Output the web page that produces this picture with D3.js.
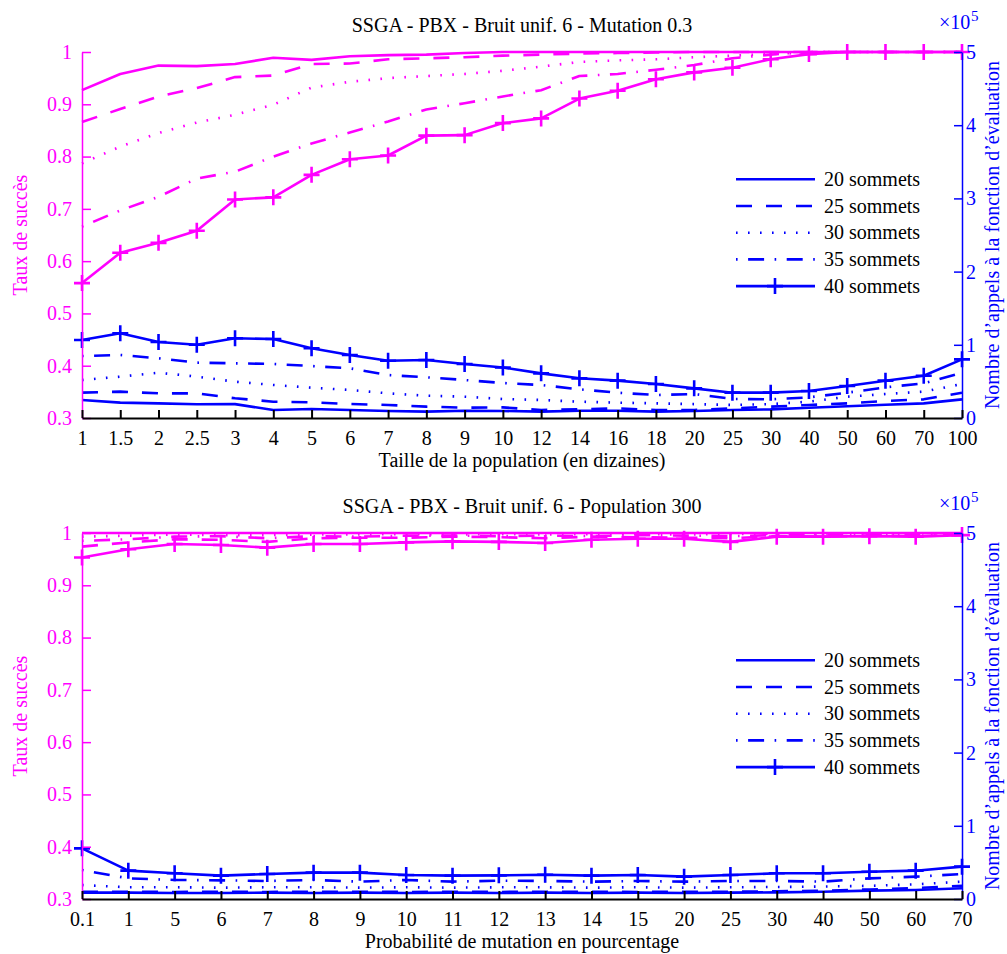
<!DOCTYPE html>
<html>
<head>
<meta charset="utf-8">
<script src="https://cdn.jsdelivr.net/npm/d3@7"></script>
<style>
  body { margin: 0; background: #fff; }
  svg text { font-family: "Liberation Serif", "Times New Roman", serif; }
</style>
</head>
<body>
<svg id="chart" width="1007" height="954" font-family="Liberation Serif"></svg>
<script>
// ---- Data --------------------------------------------------------------
const seriesNames = ["20 sommets", "25 sommets", "30 sommets", "35 sommets", "40 sommets"];

// Panel 1: population size (tens), mutation 0.3
const popCategories = ["1","1.5","2","2.5","3","4","5","6","7","8","9","10","12","14","16","18","20","25","30","40","50","60","70","100"];
const succ20Pop = [0.927,0.958,0.974,0.973,0.977,0.989,0.985,0.992,0.994,0.995,0.998,1.000,1,1,1,1,1,1,1,1,1,1,1,1];
const succ25Pop = [0.866,0.891,0.915,0.931,0.952,0.955,0.977,0.978,0.986,0.988,0.990,0.993,0.995,0.997,0.998,0.999,1,1,1,1,1,1,1,1];
const succ30Pop = [0.787,0.819,0.845,0.865,0.880,0.899,0.932,0.943,0.950,0.954,0.958,0.964,0.972,0.981,0.984,0.986,0.990,0.993,0.996,1,1,1,1,1];
const succ35Pop = [0.666,0.697,0.723,0.758,0.771,0.800,0.825,0.846,0.867,0.890,0.902,0.915,0.927,0.954,0.958,0.966,0.975,0.988,0.995,1,1,1,1,1];
const succ40Pop = [0.558,0.616,0.635,0.658,0.718,0.722,0.765,0.795,0.802,0.840,0.841,0.864,0.873,0.911,0.926,0.948,0.961,0.970,0.986,0.996,1,1,1,1];
// evaluation calls, in units of 1e5
const eval20Pop = [0.246,0.210,0.200,0.187,0.190,0.109,0.123,0.109,0.096,0.087,0.100,0.096,0.087,0.100,0.100,0.087,0.096,0.109,0.118,0.141,0.160,0.182,0.200,0.255];
const eval25Pop = [0.346,0.360,0.337,0.337,0.269,0.223,0.214,0.191,0.178,0.155,0.141,0.145,0.109,0.118,0.132,0.109,0.109,0.132,0.155,0.178,0.200,0.232,0.255,0.346];
const eval30Pop = [0.519,0.565,0.619,0.565,0.496,0.451,0.414,0.383,0.337,0.305,0.291,0.260,0.246,0.223,0.210,0.200,0.190,0.178,0.190,0.223,0.291,0.328,0.360,0.464];
const eval35Pop = [0.847,0.861,0.815,0.756,0.747,0.738,0.710,0.679,0.587,0.556,0.519,0.478,0.451,0.392,0.346,0.314,0.328,0.260,0.255,0.282,0.346,0.419,0.474,0.619];
const eval40Pop = [1.066,1.157,1.038,1.001,1.089,1.079,0.952,0.861,0.783,0.792,0.738,0.690,0.610,0.542,0.510,0.464,0.405,0.346,0.346,0.369,0.437,0.510,0.578,0.801];

// Panel 2: mutation probability (%), population 300
const mutCategories = ["0.1","1","5","6","7","8","9","10","11","12","13","14","15","20","25","30","40","50","60","70"];
const succ20Mut = [1,1,1,1,1,1,1,1,1,1,1,1,1,1,1,1,1,1,1,1];
const succ25Mut = [0.974,0.982,0.988,0.987,0.983,0.990,0.991,0.991,0.993,0.992,0.990,0.993,0.992,0.991,0.990,0.994,0.993,0.995,0.994,0.996];
const succ30Mut = [0.993,0.995,0.997,0.996,0.996,0.997,0.997,0.998,0.997,0.998,0.997,0.998,0.998,0.997,0.998,0.998,0.999,0.998,0.999,0.999];
const succ35Mut = [0.985,0.988,0.993,0.994,0.990,0.994,0.993,0.995,0.995,0.994,0.995,0.994,0.996,0.995,0.994,0.996,0.996,0.997,0.996,0.997];
const succ40Mut = [0.953,0.969,0.979,0.977,0.972,0.979,0.979,0.982,0.984,0.983,0.981,0.987,0.989,0.989,0.983,0.993,0.993,0.994,0.993,0.996];
const eval20Mut = [0.087,0.087,0.082,0.082,0.087,0.082,0.087,0.082,0.087,0.082,0.087,0.082,0.087,0.082,0.087,0.091,0.100,0.114,0.123,0.146];
const eval25Mut = [0.100,0.100,0.096,0.100,0.096,0.100,0.100,0.096,0.100,0.096,0.100,0.100,0.096,0.100,0.100,0.105,0.114,0.130,0.150,0.180];
const eval30Mut = [0.191,0.160,0.160,0.155,0.160,0.160,0.155,0.160,0.155,0.160,0.160,0.155,0.160,0.155,0.160,0.164,0.170,0.180,0.200,0.237];
const eval35Mut = [0.396,0.282,0.260,0.255,0.246,0.260,0.237,0.260,0.237,0.250,0.246,0.237,0.246,0.237,0.246,0.246,0.237,0.282,0.305,0.342];
const eval40Mut = [0.692,0.387,0.351,0.319,0.342,0.360,0.360,0.328,0.319,0.323,0.332,0.319,0.328,0.305,0.328,0.351,0.351,0.373,0.387,0.442];

const successTicks = [0.3, 0.4, 0.5, 0.6, 0.7, 0.8, 0.9, 1];
const evalTicks = [0, 1, 2, 3, 4, 5];

// ---- Styling -----------------------------------------------------------
const MAGENTA = "#ff00ff";
const BLUE = "#0000ff";
const dashPatterns = [null, "16,14", "1.6,10.4", "1.6,10.5,16,10.5", null];
const hasMarker = [false, false, false, false, true];
const FONT = 20;
const SERIF = "Liberation Serif";

const svg = d3.select("#chart");

function plusPath(px, py, r) {
  return `M${px - r},${py}H${px + r}M${px},${py - r}V${py + r}`;
}

function drawSeries(g, cats, values, x, y, color, i) {
  const line = d3.line().x((d, k) => x(cats[k])).y(d => y(d));
  g.append("path")
    .attr("d", line(values))
    .attr("fill", "none")
    .attr("stroke", color)
    .attr("stroke-width", 2.6)
    .attr("stroke-linejoin", "round")
    .attr("stroke-dasharray", dashPatterns[i]);
  if (hasMarker[i]) {
    g.append("path")
      .attr("d", values.map((v, k) => plusPath(x(cats[k]), y(v), 8)).join(""))
      .attr("stroke", color)
      .attr("stroke-width", 2.6)
      .attr("fill", "none");
  }
}

function styleTicks(ax, color, width) {
  ax.selectAll(".tick line").attr("stroke", color).attr("stroke-width", width);
  ax.selectAll(".tick text").attr("fill", color).attr("font-size", FONT)
    .attr("font-family", SERIF);
}

function drawPanel(top, cats, succ, evals, title, xTitle) {
  const left = 82, right = 962, bottom = top + 366;
  const g = svg.append("g");

  const x = d3.scalePoint().domain(cats).range([left, right]);
  const yL = d3.scaleLinear().domain([0.3, 1]).range([bottom, top]);
  const yR = d3.scaleLinear().domain([0, 5]).range([bottom, top]);

  // series
  succ.forEach((s, i) => drawSeries(g, cats, s, x, yL, MAGENTA, i));
  evals.forEach((s, i) => drawSeries(g, cats, s, x, yR, BLUE, i));

  // left axis: success rate
  const axL = g.append("g").attr("transform", `translate(${left},0)`)
    .call(d3.axisLeft(yL).tickValues(successTicks)
      .tickFormat(d => d === 1 ? "1" : d3.format(".1f")(d))
      .tickSizeInner(-9).tickSizeOuter(0).tickPadding(10));
  axL.select(".domain").attr("stroke", MAGENTA).attr("stroke-width", 1.5);
  styleTicks(axL, MAGENTA, 1.5);

  // right axis: evaluation calls
  const axR = g.append("g").attr("transform", `translate(${right},0)`)
    .call(d3.axisRight(yR).tickValues(evalTicks).tickFormat(d3.format("d"))
      .tickSizeInner(-8).tickSizeOuter(0).tickPadding(4));
  axR.select(".domain").attr("stroke", BLUE).attr("stroke-width", 1.5);
  styleTicks(axR, BLUE, 1.5);

  // bottom axis
  const axB = g.append("g").attr("transform", `translate(0,${bottom})`)
    .call(d3.axisBottom(x).tickSizeInner(-8).tickSizeOuter(0).tickPadding(13));
  axB.select(".domain").attr("stroke", "#000").attr("stroke-width", 2);
  styleTicks(axB, "#000", 2);

  // titles
  g.append("text").attr("x", (left + right) / 2).attr("y", top - 20.5)
    .attr("text-anchor", "middle").attr("font-size", FONT).attr("fill", "#000")
    .text(title);
  g.append("text").attr("x", (left + right) / 2).attr("y", bottom + 48.5)
    .attr("text-anchor", "middle").attr("font-size", FONT).attr("fill", "#000")
    .text(xTitle);
  g.append("text")
    .attr("transform", `translate(27,${(top + bottom) / 2}) rotate(-90)`)
    .attr("text-anchor", "middle").attr("font-size", FONT).attr("fill", MAGENTA)
    .text("Taux de succès");
  g.append("text")
    .attr("transform", `translate(999,${(top + bottom) / 2}) rotate(-90)`)
    .attr("text-anchor", "middle").attr("font-size", FONT).attr("fill", BLUE)
    .text("Nombre d’appels à la fonction d’évaluation");

  // ×10^5 exponent label
  g.append("text").attr("x", 939).attr("y", top - 23)
    .attr("font-size", FONT).attr("fill", BLUE).text("×10");
  g.append("text").attr("x", 971).attr("y", top - 31)
    .attr("font-size", 15).attr("fill", BLUE).text("5");

  // legend
  const lg = g.append("g");
  seriesNames.forEach((name, i) => {
    const cy = top + 127.3 + 26.7 * i;
    lg.append("line").attr("x1", 736).attr("x2", 815).attr("y1", cy).attr("y2", cy)
      .attr("stroke", BLUE).attr("stroke-width", 2.6)
      .attr("stroke-dasharray", dashPatterns[i]);
    if (hasMarker[i]) {
      lg.append("path").attr("d", plusPath(775, cy, 8))
        .attr("stroke", BLUE).attr("stroke-width", 2.6);
    }
    lg.append("text").attr("x", 824).attr("y", cy).attr("dy", "0.33em")
      .attr("font-size", FONT).attr("fill", "#000").text(name);
  });
}

drawPanel(52, popCategories,
  [succ20Pop, succ25Pop, succ30Pop, succ35Pop, succ40Pop],
  [eval20Pop, eval25Pop, eval30Pop, eval35Pop, eval40Pop],
  "SSGA - PBX - Bruit unif. 6 - Mutation 0.3",
  "Taille de la population (en dizaines)");

drawPanel(533, mutCategories,
  [succ20Mut, succ25Mut, succ30Mut, succ35Mut, succ40Mut],
  [eval20Mut, eval25Mut, eval30Mut, eval35Mut, eval40Mut],
  "SSGA - PBX - Bruit unif. 6 - Population 300",
  "Probabilité de mutation en pourcentage");
</script>
</body>
</html>
